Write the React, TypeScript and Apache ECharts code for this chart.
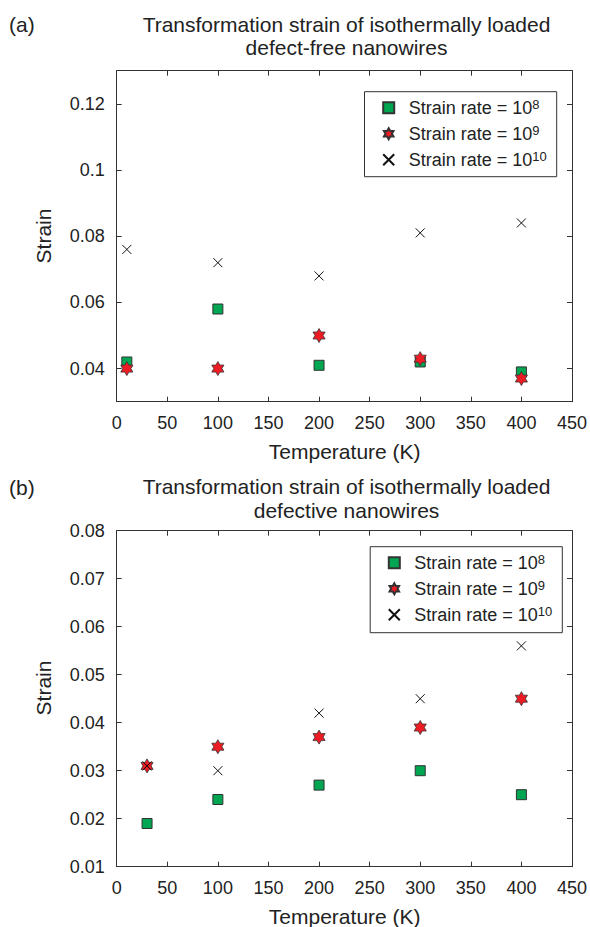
import React, { useEffect, useRef } from "react";
import * as echarts from "echarts";

// ---- data ----
const xTickValues = [0, 50, 100, 150, 200, 250, 300, 350, 400, 450];

const tempA = [10, 100, 200, 300, 400];
const rate8A = [0.042, 0.058, 0.041, 0.042, 0.039];
const rate9A = [0.04, 0.04, 0.05, 0.043, 0.037];
const rate10A = [0.076, 0.072, 0.068, 0.081, 0.084];
const yTicksA = [0.04, 0.06, 0.08, 0.1, 0.12];

const tempB = [30, 100, 200, 300, 400];
const rate8B = [0.019, 0.024, 0.027, 0.03, 0.025];
const rate9B = [0.031, 0.035, 0.037, 0.039, 0.045];
const rate10B = [0.031, 0.03, 0.042, 0.045, 0.056];
const yTicksB = [0.01, 0.02, 0.03, 0.04, 0.05, 0.06, 0.07, 0.08];

const seriesNames = ["Strain rate = 10^8", "Strain rate = 10^9", "Strain rate = 10^10"];
const supTexts = ["8", "9", "10"];

const titleA = ["Transformation strain of isothermally loaded", "defect-free nanowires"];
const titleB = ["Transformation strain of isothermally loaded", "defective nanowires"];
const xName = "Temperature (K)";
const yName = "Strain";

// ---- styles ----
const FONT = "'Liberation Sans', Arial, Helvetica, sans-serif";
const INK = "#222";
const AXIS = "#333";
const SQUARE = "path://M0,0H10V10H0Z";
const HEXAGRAM =
  "path://M43.3,0L57.73,25L86.6,25L72.17,50L86.6,75L57.73,75L43.3,100L28.87,75L0,75L14.43,50L0,25L28.87,25Z";
const CROSS = "path://M0,0L10,10M0,10L10,0";

const markerStyles = [
  { symbol: SQUARE, symbolSize: 10, itemStyle: { color: "#00a651", borderColor: "#333", borderWidth: 1, opacity: 1 } },
  { symbol: HEXAGRAM, symbolSize: 14, itemStyle: { color: "#ed1c24", borderColor: "#333", borderWidth: 0.8, opacity: 1 } },
  { symbol: CROSS, symbolSize: 9, itemStyle: { color: "#111", borderColor: "#111", borderWidth: 1, opacity: 1 } },
];

function fmt(v: number) {
  return String(parseFloat(Number(v).toFixed(3)));
}

function axesFor(gridIndex: number, yMin: number, yMax: number, yTicks: number[]) {
  const line = { show: true, onZero: false, lineStyle: { color: AXIS, width: 1 } };
  const tick = { show: true, inside: true, length: 5, lineStyle: { color: AXIS, width: 1 } };
  const x = (pos: string, labels: boolean) => ({
    type: "value",
    gridIndex,
    position: pos,
    min: 0,
    max: 450,
    interval: 50,
    axisLine: line,
    axisTick: tick,
    splitLine: { show: false },
    axisLabel: {
      show: labels,
      fontSize: 18,
      fontFamily: FONT,
      color: INK,
      margin: 12,
      customValues: xTickValues,
    },
  });
  const y = (pos: string, labels: boolean) => ({
    type: "value",
    gridIndex,
    position: pos,
    min: yMin,
    max: yMax,
    axisLine: line,
    axisTick: { ...tick, customValues: yTicks },
    splitLine: { show: false },
    axisLabel: {
      show: labels,
      fontSize: 18,
      fontFamily: FONT,
      color: INK,
      margin: 12,
      customValues: yTicks,
      formatter: (v: number) => fmt(v),
    },
  });
  return { xs: [x("bottom", true), x("top", false)], ys: [y("left", true), y("right", false)] };
}

function scatterSeries(xIdx: number, yIdx: number, temps: number[], sets: number[][]) {
  return sets.map((vals, k) => ({
    type: "scatter",
    name: seriesNames[k],
    xAxisIndex: xIdx,
    yAxisIndex: yIdx,
    symbolKeepAspect: true,
    ...markerStyles[k],
    z: 2 + k,
    data: temps.map((t, i) => [t, vals[i]]),
  }));
}

function legendFor(left: number, top: number) {
  return {
    orient: "vertical",
    left,
    top,
    itemWidth: 30,
    itemHeight: 11,
    itemGap: 7,
    padding: 0,
    z: 6,
    selectedMode: false,
    data: seriesNames.map((n, k) => ({ name: n, icon: markerStyles[k].symbol })),
    formatter: (name: string) => {
      const k = seriesNames.indexOf(name);
      return `{m|Strain rate = 10}{sup|${supTexts[k]}}`;
    },
    textStyle: {
      fontFamily: FONT,
      fontSize: 18,
      color: INK,
      rich: {
        m: { fontFamily: FONT, fontSize: 18, color: INK, lineHeight: 20 },
        sup: { fontFamily: FONT, fontSize: 13, color: INK, lineHeight: 6, verticalAlign: "top" },
      },
    },
  };
}

function textEl(text: string, x: number, y: number, opts: any = {}) {
  return {
    type: "text",
    x,
    y,
    rotation: opts.rotation || 0,
    style: {
      text,
      fontFamily: FONT,
      fontSize: opts.fontSize || 21,
      fill: INK,
      align: opts.align || "center",
      verticalAlign: "middle",
    },
  };
}

function boxEl(x: number, y: number, w: number, h: number) {
  return {
    type: "rect",
    z: 5,
    shape: { x, y, width: w, height: h },
    style: { fill: "#fff", stroke: AXIS, lineWidth: 1 },
  };
}

export default function App() {
  const ref = useRef<HTMLDivElement>(null);
  useEffect(() => {
    if (!ref.current) return;
    const chart = echarts.init(ref.current, null, { renderer: "svg" });
    const a = axesFor(0, 0.03, 0.13, yTicksA);
    const b = axesFor(1, 0.01, 0.08, yTicksB);
    const option: any = {
      animation: false,
      backgroundColor: "#fff",
      grid: [
        { left: 116.7, top: 70.7, width: 456, height: 331, containLabel: false },
        { left: 116.7, top: 530.7, width: 456.3, height: 336, containLabel: false },
      ],
      xAxis: [...a.xs, ...b.xs],
      yAxis: [...a.ys, ...b.ys],
      legend: [legendFor(382.2, 97.7), legendFor(387.8, 552.7)],
      series: [
        ...scatterSeries(0, 0, tempA, [rate8A, rate9A, rate10A]),
        ...scatterSeries(2, 2, tempB, [rate8B, rate9B, rate10B]),
      ],
      graphic: [
        boxEl(364.5, 91.7, 192.2, 85),
        boxEl(370.2, 546.7, 192.1, 86),
        textEl("(a)", 9, 24.5, { align: "left" }),
        textEl(titleA[0], 346.5, 24),
        textEl(titleA[1], 346.5, 47),
        textEl(xName, 344.7, 451.5),
        textEl(yName, 43, 236, { rotation: Math.PI / 2 }),
        textEl("(b)", 9, 487, { align: "left" }),
        textEl(titleB[0], 346.5, 486.5),
        textEl(titleB[1], 346.5, 510),
        textEl(xName, 344.7, 916),
        textEl(yName, 43, 688, { rotation: Math.PI / 2 }),
      ],
    };
    chart.setOption(option);
    return () => chart.dispose();
  }, []);
  return (
    <div
      ref={ref}
      style={{ position: "fixed", left: 0, top: 0, width: 590, height: 927, background: "#fff" }}
    />
  );
}
